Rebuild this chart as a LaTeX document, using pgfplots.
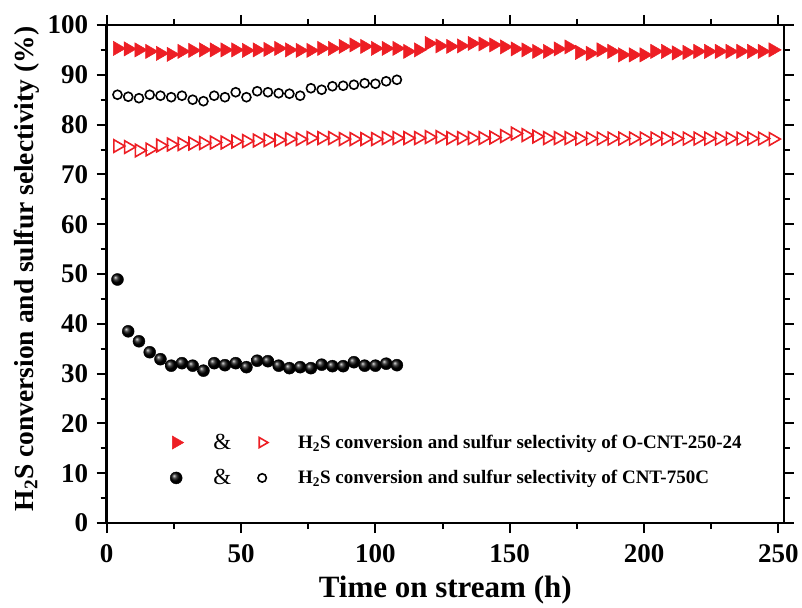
\documentclass[border=0pt]{standalone}
\usepackage{pgfplots}
\pgfplotsset{compat=1.18}
\usepackage{pgfplotstable}
\usepackage{fontspec}
\setmainfont{Liberation Serif}
\definecolor{myred}{RGB}{237,30,36}

\pgfplotstableread{
t y
4 95.3
8 95.2
12 95.0
16 94.7
20 94.3
24 94.1
28 94.7
32 94.9
36 95.0
40 95.0
44 95.0
48 95.0
52 94.9
56 95.0
60 95.1
64 95.3
68 95.0
72 94.9
76 94.9
80 95.3
84 95.3
88 95.7
92 96.0
96 95.7
100 95.3
104 95.3
108 95.3
112 94.7
116 95.0
120 96.3
124 95.8
128 95.7
132 95.8
136 96.3
140 96.2
144 96.0
148 95.6
152 95.2
156 95.0
160 94.7
164 94.7
168 95.2
172 95.6
176 94.5
180 94.3
184 95.0
188 94.7
192 94.0
196 94.0
200 94.0
204 94.7
208 94.7
212 94.4
216 94.5
220 94.7
224 94.7
228 94.7
232 94.7
236 94.7
240 94.7
244 94.7
248 95.0
}\oconv

\pgfplotstableread{
t y
4 75.7
8 75.5
12 74.8
16 75.0
20 75.8
24 76.0
28 76.1
32 76.2
36 76.3
40 76.4
44 76.4
48 76.6
52 76.7
56 76.8
60 76.9
64 76.9
68 77.1
72 77.1
76 77.3
80 77.3
84 77.3
88 77.1
92 77.1
96 77.1
100 77.1
104 77.3
108 77.3
112 77.3
116 77.3
120 77.5
124 77.5
128 77.3
132 77.3
136 77.3
140 77.3
144 77.4
148 77.7
152 78.2
156 77.9
160 77.6
164 77.3
168 77.3
172 77.3
176 77.2
180 77.2
184 77.2
188 77.2
192 77.2
196 77.2
200 77.2
204 77.2
208 77.2
212 77.2
216 77.2
220 77.2
224 77.2
228 77.2
232 77.2
236 77.2
240 77.2
244 77.2
248 77.1
}\osel

\pgfplotstableread{
t y
4 48.9
8 38.5
12 36.5
16 34.3
20 32.9
24 31.6
28 32.1
32 31.6
36 30.6
40 32.1
44 31.7
48 32.1
52 31.3
56 32.6
60 32.5
64 31.6
68 31.1
72 31.3
76 31.1
80 31.8
84 31.5
88 31.5
92 32.3
96 31.6
100 31.6
104 32.0
108 31.7
}\cconv

\pgfplotstableread{
t y
4 86.0
8 85.6
12 85.3
16 86.0
20 85.8
24 85.5
28 85.8
32 85.0
36 84.7
40 85.8
44 85.5
48 86.5
52 85.5
56 86.7
60 86.5
64 86.3
68 86.2
72 85.8
76 87.3
80 87.0
84 87.7
88 87.8
92 88.0
96 88.3
100 88.2
104 88.7
108 89.0
}\csel

\begin{document}
\begin{tikzpicture}
\begin{axis}[
  scale only axis,
  width=677pt, height=498pt,
  xmin=0, xmax=252, ymin=0, ymax=100,
  xtick={0,50,...,250}, minor x tick num=1,
  ytick={0,10,...,100}, minor y tick num=1,
  tick align=outside,
  major tick length=10pt, minor tick length=6pt,
  axis line style={line width=2.5pt},
  major tick style={line width=2pt, black},
  minor tick style={line width=2pt, black},
  /pgf/number format/assume math mode=true,
  tick label style={font=\fontsize{27}{27}\selectfont\bfseries},
  xticklabel style={yshift=-8pt},
  yticklabel style={xshift=-5pt},
  xlabel={Time on stream (h)},
  ylabel={H\textsubscript{2}S conversion and sulfur selectivity (\%)},
  xlabel style={font=\fontsize{31}{31}\selectfont\bfseries, yshift=-6pt},
  every axis y label/.style={at={(axis description cs:0,0.51)}, rotate=90, anchor=base,
    yshift=73.5pt, font=\fontsize{27.5}{27.5}\selectfont\bfseries},
  legend style={draw=none, fill=none, at={(axis cs:22.8,18.1)}, anchor=north west,
    font=\fontsize{19}{19}\selectfont\bfseries, row sep=16.5pt,
    inner sep=0pt},
  legend cell align=left,
]
\addplot[forget plot, only marks, mark=triangle*, mark size=8.2pt, color=myred,
  mark options={rotate=-90, fill=myred, draw=myred, line width=0.5pt}] table[x=t,y=y] {\oconv};
\addplot[forget plot, only marks, mark=triangle, mark size=7.3pt, color=myred,
  mark options={rotate=-90, fill=white, draw=myred, line width=1.6pt}] table[x=t,y=y] {\osel};
\addplot[forget plot, only marks, mark=o, mark size=4.5pt, color=black,
  mark options={fill=white, line width=1.6pt}] table[x=t,y=y] {\csel};
\addplot[forget plot, only marks, mark=ball, mark size=6pt,
  mark options={ball color=black}] table[x=t,y=y] {\cconv};

\addlegendimage{legend image code/.code={
  \path[draw=none] (-8pt,0pt) -- (120pt,0pt);
  \path[draw=none, fill=myred] plot[mark=triangle*, mark size=7.5pt, mark options={rotate=-90, draw=myred, fill=myred, line width=0.5pt, solid}] coordinates {(0pt,0pt)};
  \node[font=\fontsize{23}{23}\selectfont\mdseries, inner sep=0pt, text=black] at (37pt,0pt) {\&};
  \path[draw=none] plot[mark=triangle, mark size=5.8pt, mark options={rotate=-90, draw=myred, fill=white, line width=1.6pt, solid}] coordinates {(86pt,0pt)};
}}
\addlegendentry{H\textsubscript{2}S conversion and sulfur selectivity of O-CNT-250-24}
\addlegendimage{legend image code/.code={
  \path[draw=none] (-8pt,0pt) -- (120pt,0pt);
  \path[draw=none] plot[mark=ball, mark size=6pt, mark options={ball color=black}] coordinates {(0pt,0pt)};
  \node[font=\fontsize{23}{23}\selectfont\mdseries, inner sep=0pt, text=black] at (37pt,0pt) {\&};
  \path[draw=none] plot[mark=o, mark size=4.2pt, mark options={draw=black, fill=white, line width=1.6pt, solid}] coordinates {(86pt,0pt)};
}}
\addlegendentry{H\textsubscript{2}S conversion and sulfur selectivity of CNT-750C}
\end{axis}
\path (current axis.south west) ++(-106.7pt,-81pt) rectangle ([shift={(18pt,25pt)}]current axis.north east);
\end{tikzpicture}
\end{document}
